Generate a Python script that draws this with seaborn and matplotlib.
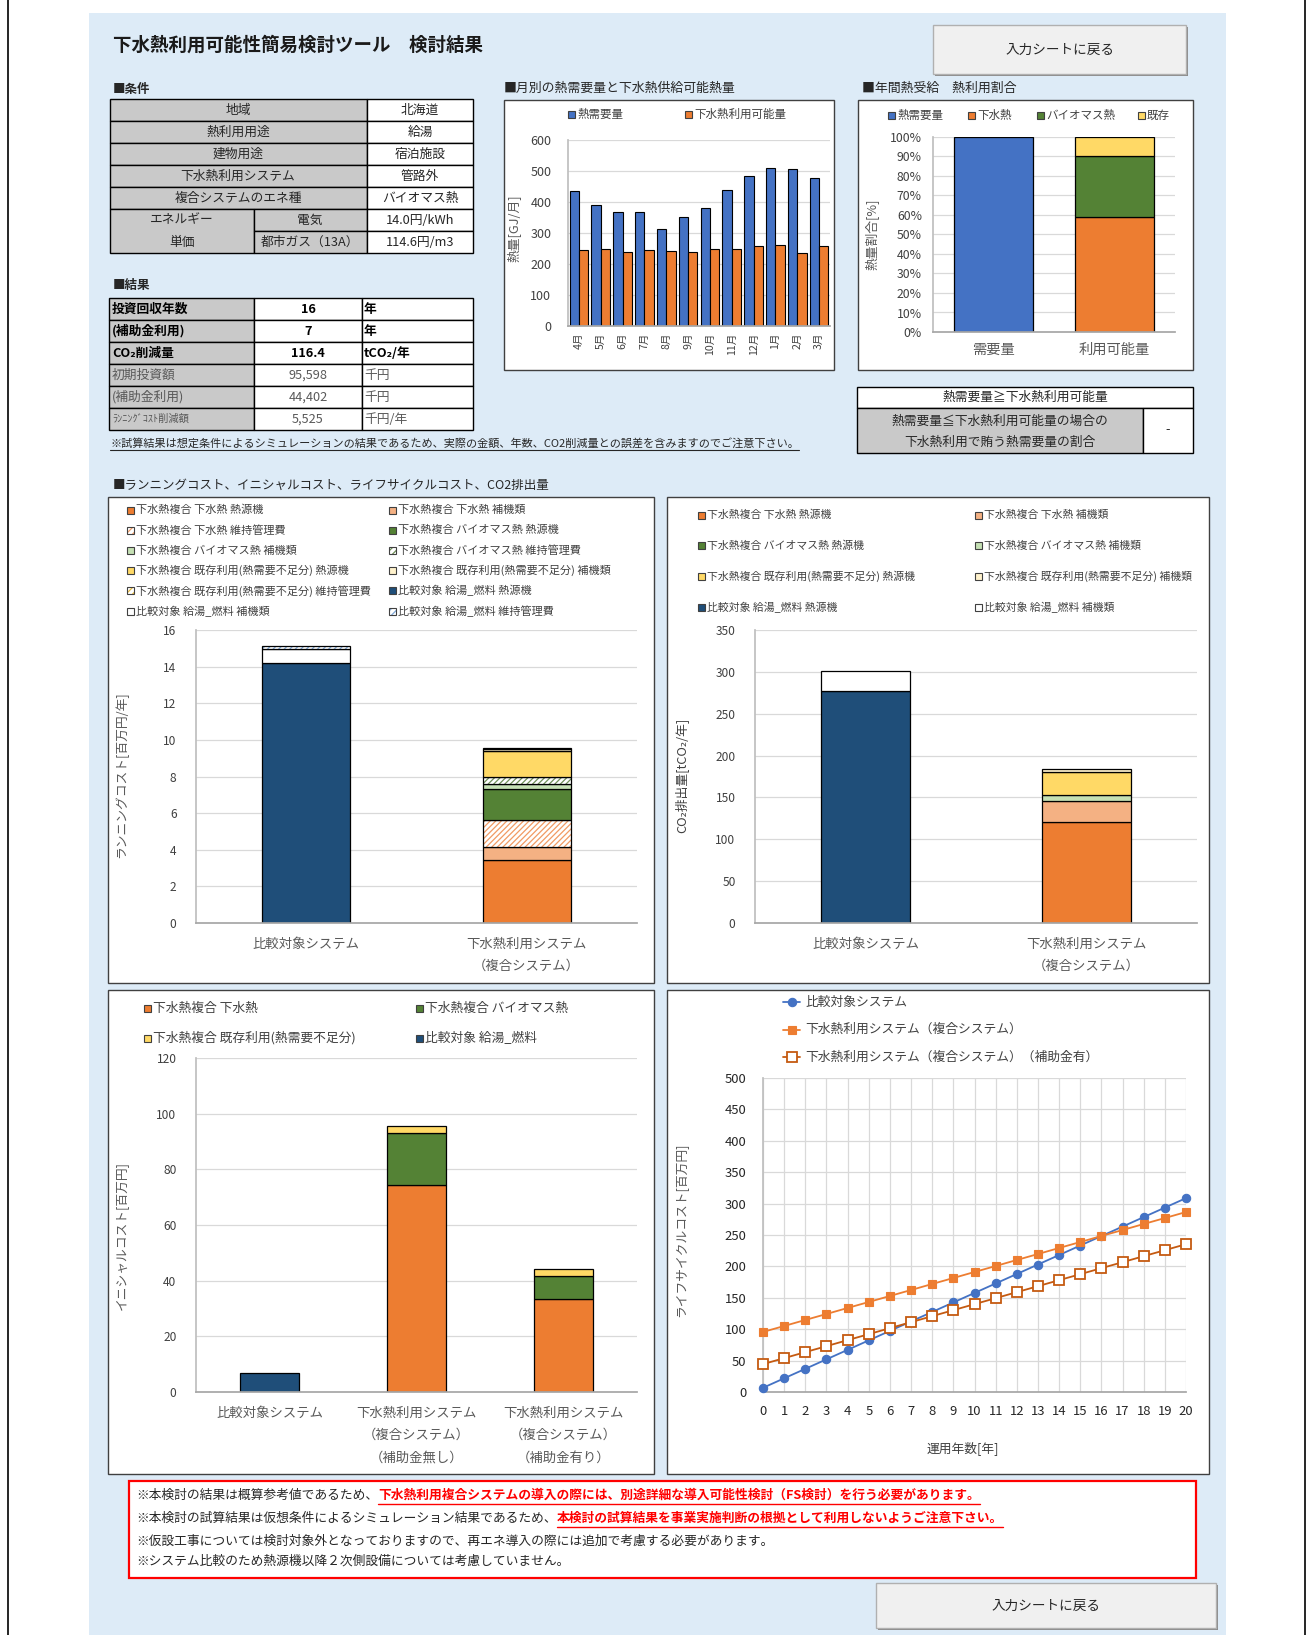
import numpy as np
import pandas as pd
import seaborn as sns
import matplotlib.pyplot as plt
from matplotlib.patches import Rectangle
from matplotlib.ticker import PercentFormatter

# ---------------- data ----------------
cond_labels = ['地域', '熱利用用途', '建物用途', '下水熱利用システム', '複合システムのエネ種']
cond_values = ['北海道', '給湯', '宿泊施設', '管路外', 'バイオマス熱']
price_labels = ['電気', '都市ガス（13A）']
price_values = ['14.0円/kWh', '114.6円/m3']

res_labels = ['投資回収年数', '(補助金利用)', 'CO₂削減量', '初期投資額', '(補助金利用)', 'ﾗﾝﾆﾝｸﾞｺｽﾄ削減額']
res_values = ['16', '7', '116.4', '95,598', '44,402', '5,525']
res_units = ['年', '年', 'tCO₂/年', '千円', '千円', '千円/年']

months = ['4月', '5月', '6月', '7月', '8月', '9月', '10月', '11月', '12月', '1月', '2月', '3月']
demand = [435, 390, 369, 369, 313, 353, 380, 438, 485, 509, 505, 477]
supply = [245, 249, 238, 244, 242, 238, 249, 247, 259, 262, 234, 257]

share_cats = ['需要量', '利用可能量']
share_labels = ['熱需要量', '下水熱', 'バイオマス熱', '既存']
share_demand = [100, 0]
share_sewage = [0, 59.1]
share_bio = [0, 31.2]
share_exist = [0, 9.7]

sys_cats = ['比較対象システム', '下水熱利用システム\n（複合システム）']
run_labels = ['下水熱複合 下水熱 熱源機', '下水熱複合 下水熱 補機類',
              '下水熱複合 下水熱 維持管理費', '下水熱複合 バイオマス熱 熱源機',
              '下水熱複合 バイオマス熱 補機類', '下水熱複合 バイオマス熱 維持管理費',
              '下水熱複合 既存利用(熱需要不足分) 熱源機', '下水熱複合 既存利用(熱需要不足分) 補機類',
              '下水熱複合 既存利用(熱需要不足分) 維持管理費', '比較対象 給湯_燃料 熱源機',
              '比較対象 給湯_燃料 補機類', '比較対象 給湯_燃料 維持管理費']
run_cost = [[0, 3.45], [0, 0.68], [0, 1.51], [0, 1.69], [0, 0.25], [0, 0.38],
            [0, 1.42], [0, 0.11], [0, 0.06], [14.22, 0], [0.73, 0], [0.15, 0]]

co2_labels = ['下水熱複合 下水熱 熱源機', '下水熱複合 下水熱 補機類',
              '下水熱複合 バイオマス熱 熱源機', '下水熱複合 バイオマス熱 補機類',
              '下水熱複合 既存利用(熱需要不足分) 熱源機', '下水熱複合 既存利用(熱需要不足分) 補機類',
              '比較対象 給湯_燃料 熱源機', '比較対象 給湯_燃料 補機類']
co2_emis = [[0, 120.5], [0, 24.7], [0, 0], [0, 7.9], [0, 26.7], [0, 4.7],
            [276.8, 0], [24.2, 0]]

init_cats = ['比較対象システム', '下水熱利用システム\n（複合システム）\n（補助金無し）',
             '下水熱利用システム\n（複合システム）\n（補助金有り）']
init_labels = ['下水熱複合 下水熱', '下水熱複合 バイオマス熱',
               '下水熱複合 既存利用(熱需要不足分)', '比較対象 給湯_燃料']
init_cost = [[0, 74.5, 33.4], [0, 18.7, 8.4], [0, 2.4, 2.4], [6.7, 0, 0]]

years = [0, 1, 2, 3, 4, 5, 6, 7, 8, 9, 10, 11, 12, 13, 14, 15, 16, 17, 18, 19, 20]
lcc_base = [6.7, 21.8, 36.9, 52.0, 67.1, 82.2, 97.3, 112.4, 127.5, 142.6, 157.7,
            172.8, 187.9, 203.0, 218.1, 233.2, 248.3, 263.4, 278.5, 293.6, 308.7]
lcc_sys = [95.6, 105.1, 114.7, 124.2, 133.8, 143.3, 152.9, 162.4, 172.0, 181.5, 191.1,
           200.6, 210.2, 219.7, 229.3, 238.8, 248.4, 257.9, 267.5, 277.0, 286.6]
lcc_sub = [44.4, 53.9, 63.5, 73.0, 82.6, 92.1, 101.7, 111.2, 120.8, 130.3, 139.9,
           149.4, 159.0, 168.5, 178.1, 187.6, 197.2, 206.7, 216.3, 225.8, 235.4]
lcc_labels = ['比較対象システム', '下水熱利用システム（複合システム）',
              '下水熱利用システム（複合システム）（補助金有）']

notes = [('※本検討の結果は概算参考値であるため、',
          '下水熱利用複合システムの導入の際には、別途詳細な導入可能性検討（FS検討）を行う必要があります。'),
         ('※本検討の試算結果は仮想条件によるシミュレーション結果であるため、',
          '本検討の試算結果を事業実施判断の根拠として利用しないようご注意下さい。'),
         ('※仮設工事については検討対象外となっておりますので、再エネ導入の際には追加で考慮する必要があります。', ''),
         ('※システム比較のため熱源機以降２次側設備については考慮していません。', '')]

# ---------------- styles ----------------
BLUE, ORANGE, GREEN, YELLOW, NAVY = '#4472c4', '#ed7d31', '#548235', '#ffd966', '#1f4e79'
GRAY = '#c9c9c9'
# (facecolor, hatch colour or None)
run_styles = [(ORANGE, None), ('#f4b183', None), ('white', '#f19a63'),
              (GREEN, None), ('#c5e0b4', None), ('white', '#6f8f58'),
              (YELLOW, None), ('#fff2cc', None), ('white', '#e6b83a'),
              (NAVY, None), ('white', None), ('white', '#7fa7d6')]
co2_styles = [(ORANGE, None), ('#f4b183', None), (GREEN, None), ('#c5e0b4', None),
              (YELLOW, None), ('#fff2cc', None), (NAVY, None), ('white', None)]
init_styles = [(ORANGE, None), (GREEN, None), (YELLOW, None), (NAVY, None)]

sns.set_theme(style='white')
plt.rcParams['font.family'] = ['Noto Sans CJK JP', 'DejaVu Sans']
plt.rcParams['hatch.linewidth'] = 0.9

W, H = 1309, 1635
fig = plt.figure(figsize=(W / 100, H / 100), dpi=100)
fig.patch.set_facecolor('white')
bg = fig.add_axes([0, 0, 1, 1])
bg.set_xlim(0, W)
bg.set_ylim(H, 0)
bg.axis('off')

AXLAB = 9.2   # axis title size
TICK = 8.6    # tick label size
CAT = 9.6     # category label size


def box(x0, y0, x1, y1, fc='white', ec='black', lw=1.0, z=1):
    bg.add_patch(Rectangle((x0, y0), x1 - x0, y1 - y0, facecolor=fc,
                           edgecolor=ec, linewidth=lw, zorder=z))


def txt(x, y, s, size=9, ha='left', va='center', **kw):
    return bg.text(x, y, s, fontsize=size, ha=ha, va=va, zorder=5, **kw)


def chart_axes(x0, y0, x1, y1, xgrid=False):
    ax = fig.add_axes([x0 / W, 1 - y1 / H, (x1 - x0) / W, (y1 - y0) / H])
    ax.set_zorder(2)
    ax.set_facecolor('white')
    for s in ['top', 'right']:
        ax.spines[s].set_visible(False)
    ax.spines['left'].set_color('#bfbfbf')
    ax.spines['bottom'].set_color('#a6a6a6')
    ax.grid(axis='both' if xgrid else 'y', color='#d9d9d9', linewidth=0.9)
    ax.set_axisbelow(True)
    ax.tick_params(length=0, labelsize=TICK, colors='#404040')
    return ax


def legend_key(x, y, style, label, size=8, s=7):
    fc, hc = style
    if hc:
        bg.add_patch(Rectangle((x, y - s / 2), s, s, facecolor='white', edgecolor=hc,
                               hatch='/////', linewidth=0, zorder=5))
        bg.add_patch(Rectangle((x, y - s / 2), s, s, fill=False, edgecolor='#404040',
                               linewidth=0.8, zorder=6))
    else:
        bg.add_patch(Rectangle((x, y - s / 2), s, s, facecolor=fc, edgecolor='#404040',
                               linewidth=0.8, zorder=5))
    txt(x + s + 2, y, label, size=size, color='#404040')


def stacked(ax, cats, values, styles, width):
    x = np.arange(len(cats))
    bottom = np.zeros(len(cats))
    for vals, (fc, hc) in zip(values, styles):
        vals = np.asarray(vals, dtype=float)
        keep = vals > 0
        if keep.any():
            if hc:
                ax.bar(x[keep], vals[keep], width, bottom=bottom[keep], color='white',
                       edgecolor=hc, hatch='//////', linewidth=0)
                ax.bar(x[keep], vals[keep], width, bottom=bottom[keep], fill=False,
                       edgecolor='black', linewidth=0.9)
            else:
                ax.bar(x[keep], vals[keep], width, bottom=bottom[keep], color=fc,
                       edgecolor='black', linewidth=0.9)
        bottom += vals
    ax.set_xticks(x)
    ax.set_xticklabels(cats, color='#595959', fontsize=CAT, linespacing=1.75)
    ax.set_xlim(-0.5, len(cats) - 0.5)


# ---------------- page background ----------------
box(89, 13, 1226, H + 5, fc='#ddebf7', ec='none', z=0)
bg.axvline(8, color='black', lw=1.2)
bg.axvline(1305, color='black', lw=1.2)

txt(113, 45, '下水熱利用可能性簡易検討ツール　検討結果', size=13.3, fontweight='bold', color='#1a1a1a')
for (bx0, by0, bx1, by1) in [(933, 25, 1186, 74), (876, 1583, 1216, 1628)]:
    box(bx0 + 1.5, by0 + 1.5, bx1 + 1.5, by1 + 1.5, fc='#8a8a8a', ec='none', z=1)
    box(bx0, by0, bx1, by1, fc='#f0f0f0', ec='#b0b0b0', z=2)
    txt((bx0 + bx1) / 2, (by0 + by1) / 2, '入力シートに戻る', size=9.8, ha='center', color='#262626')

# ---------------- conditions table ----------------
txt(113, 89, '■条件', size=9, fontweight='bold')
rh = 22
for i, (lab, val) in enumerate(zip(cond_labels, cond_values)):
    y = 99 + rh * i
    box(110, y, 367, y + rh, fc=GRAY)
    box(367, y, 473, y + rh)
    txt(238, y + rh / 2, lab, ha='center', size=9.2, color='#262626')
    txt(420, y + rh / 2, val, ha='center', size=9.2, color='#262626')
y5 = 99 + rh * 5
box(110, y5, 254, y5 + 2 * rh, fc=GRAY)
txt(182, y5 + rh / 2, 'エネルギー', ha='center', size=9.2, color='#262626')
txt(182, y5 + 1.5 * rh, '単価', ha='center', size=9.2, color='#262626')
for i, (lab, val) in enumerate(zip(price_labels, price_values)):
    y = y5 + rh * i
    box(254, y, 367, y + rh, fc=GRAY)
    box(367, y, 473, y + rh)
    txt(310, y + rh / 2, lab, ha='center', size=9.2, color='#262626')
    txt(420, y + rh / 2, val, ha='center', size=9.2, color='#262626')

# ---------------- results table ----------------
txt(113, 285, '■結果', size=9, fontweight='bold')
for i, (lab, val, unit) in enumerate(zip(res_labels, res_values, res_units)):
    y = 298 + rh * i
    box(109, y, 254, y + rh, fc=GRAY)
    box(254, y, 362, y + rh)
    box(362, y, 473, y + rh)
    bold = 'bold' if i < 3 else 'normal'
    col = 'black' if i < 3 else '#595959'
    txt(112, y + rh / 2, lab, size=(7.4 if i == 5 else 9.2), fontweight=bold, color=col)
    txt(308, y + rh / 2, val, ha='center', size=9.2, fontweight=bold, color=col)
    txt(364, y + rh / 2, unit, size=9.2, fontweight=bold, color=col)
t = txt(110, 443, '※試算結果は想定条件によるシミュレーションの結果であるため、実際の金額、年数、CO2削減量との誤差を含みますのでご注意下さい。',
        size=8, color='#262626')
renderer = fig.canvas.get_renderer()
wnote = t.get_window_extent(renderer).width
bg.plot([110, 110 + wnote], [450, 450], color='#262626', lw=0.8)

# ---------------- monthly chart ----------------
txt(504, 88, '■月別の熱需要量と下水熱供給可能熱量', size=9.3, color='#262626')
box(504, 100, 834, 370, ec='#404040')
legend_key(568, 114, (BLUE, None), '熱需要量', size=8.3)
legend_key(685, 114, (ORANGE, None), '下水熱利用可能量', size=8.3)
ax = chart_axes(568, 140, 830, 326)
df_month = pd.DataFrame({'月': months * 2, '熱量': demand + supply,
                         '系列': ['熱需要量'] * 12 + ['下水熱利用可能量'] * 12})
sns.barplot(data=df_month, x='月', y='熱量', hue='系列', order=months,
            hue_order=['熱需要量', '下水熱利用可能量'], palette=[BLUE, ORANGE],
            saturation=1, width=0.86, gap=0, edgecolor='black', linewidth=0.8,
            errorbar=None, legend=False, ax=ax)
ax.set_xlabel('')
ax.set_ylabel('')
ax.set_xlim(-0.5, 11.5)
ax.set_ylim(0, 600)
ax.set_yticks(range(0, 601, 100))
ax.tick_params(axis='x', labelrotation=90, labelsize=7.6, pad=5)
ax.tick_params(axis='y', labelsize=9, pad=12)
txt(515, 228, '熱量[GJ/月]', size=AXLAB, ha='center', rotation=90, color='#595959')

# ---------------- annual share chart ----------------
txt(862, 88, '■年間熱受給　熱利用割合', size=9.3, color='#262626')
box(858, 100, 1193, 370, ec='#404040')
for xk, lab, st in zip([888, 968, 1037, 1138], share_labels,
                       [(BLUE, None), (ORANGE, None), (GREEN, None), (YELLOW, None)]):
    legend_key(xk, 115, st, lab, size=8.3)
ax = chart_axes(933, 137, 1175, 332)
stacked(ax, share_cats, [share_demand, share_sewage, share_bio, share_exist],
        [(BLUE, None), (ORANGE, None), (GREEN, None), (YELLOW, None)], 0.66)
ax.set_ylim(0, 100)
ax.set_yticks(range(0, 101, 10))
ax.yaxis.set_major_formatter(PercentFormatter(decimals=0))
ax.tick_params(axis='x', labelsize=10.3, pad=8)
ax.tick_params(axis='y', labelsize=8.8, pad=8)
txt(872, 234, '熱量割合[%]', size=AXLAB, ha='center', rotation=90, color='#595959')

# ---------------- small judgement table ----------------
box(857, 387, 1193, 408)
txt(1025, 397.5, '熱需要量≧下水熱利用可能量', ha='center', size=9.2, color='#262626')
box(857, 408, 1143, 453, fc=GRAY)
box(1143, 408, 1193, 453)
txt(1000, 421, '熱需要量≦下水熱利用可能量の場合の', ha='center', size=9.2, color='#262626')
txt(1000, 442, '下水熱利用で賄う熱需要量の割合', ha='center', size=9.2, color='#262626')
txt(1168, 430, '-', ha='center', size=9.2, color='#262626')

# ---------------- running cost chart ----------------
txt(113, 485, '■ランニングコスト、イニシャルコスト、ライフサイクルコスト、CO2排出量', size=9, color='#262626')
box(108, 497, 654, 983, ec='#404040')
for i, (lab, st) in enumerate(zip(run_labels, run_styles)):
    legend_key([127, 389][i % 2], 510 + 20.2 * (i // 2), st, lab, size=8)
ax = chart_axes(196, 630, 637, 923)
stacked(ax, sys_cats, run_cost, run_styles, 0.4)
ax.set_ylim(0, 16)
ax.set_yticks(range(0, 17, 2))
ax.tick_params(axis='y', pad=14)
ax.tick_params(axis='x', pad=10)
txt(121, 775, 'ランニングコスト[百万円/年]', size=AXLAB, ha='center', rotation=90, color='#595959')

# ---------------- CO2 chart ----------------
box(667, 497, 1209, 983, ec='#404040')
for i, (lab, st) in enumerate(zip(co2_labels, co2_styles)):
    legend_key([698, 975][i % 2], 515 + 30.7 * (i // 2), st, lab, size=7.8)
ax = chart_axes(755, 630, 1197, 923)
stacked(ax, sys_cats, co2_emis, co2_styles, 0.4)
ax.set_ylim(0, 350)
ax.set_yticks(range(0, 351, 50))
ax.tick_params(axis='y', pad=14)
ax.tick_params(axis='x', pad=10)
txt(681, 775, 'CO₂排出量[tCO₂/年]', size=AXLAB, ha='center', rotation=90, color='#404040')

# ---------------- initial cost chart ----------------
box(108, 990, 654, 1474, ec='#404040')
for i, (lab, st) in enumerate(zip(init_labels, init_styles)):
    legend_key([144, 416][i % 2], 1008 + 30 * (i // 2), st, lab, size=9.2)
ax = chart_axes(196, 1058, 637, 1392)
stacked(ax, init_cats, init_cost, init_styles, 0.4)
ax.set_ylim(0, 120)
ax.set_yticks(range(0, 121, 20))
ax.tick_params(axis='y', pad=14)
ax.tick_params(axis='x', pad=10)
txt(121, 1235, 'イニシャルコスト[百万円]', size=AXLAB, ha='center', rotation=90, color='#595959')

# ---------------- life cycle cost chart ----------------
box(667, 990, 1209, 1474, ec='#404040')
ax = chart_axes(763, 1078, 1186, 1392, xgrid=True)
line_styles = [dict(color=BLUE, marker='o', markersize=6, markerfacecolor=BLUE,
                    markeredgecolor=BLUE, markeredgewidth=0.8),
               dict(color=ORANGE, marker='s', markersize=6, markerfacecolor=ORANGE,
                    markeredgecolor=ORANGE, markeredgewidth=0.8),
               dict(color='#c55a11', marker='s', markersize=6.5, markerfacecolor='white',
                    markeredgecolor='#c55a11', markeredgewidth=1.3)]
for vals, st in zip([lcc_base, lcc_sys, lcc_sub], line_styles):
    sns.lineplot(x=years, y=vals, ax=ax, linewidth=1.3, clip_on=False, zorder=3, **st)
ax.set_xlim(0, 20)
ax.set_ylim(0, 500)
ax.set_xticks(years)
ax.set_yticks(range(0, 501, 50))
ax.tick_params(labelsize=9.4, colors='#262626')
ax.tick_params(axis='x', pad=9)
ax.tick_params(axis='y', pad=12)
for i, (lab, st) in enumerate(zip(lcc_labels, line_styles)):
    yk = 1002 + 27.5 * i
    bg.plot([783, 800], [yk, yk], color=st['color'], lw=1.3, zorder=5)
    mk = {k: v for k, v in st.items() if k != 'color'}
    bg.plot([791.5], [yk], zorder=6, linestyle='none', **mk)
    txt(805, yk, lab, size=9.2, color='#404040')
txt(681, 1230, 'ライフサイクルコスト[百万円]', size=AXLAB, ha='center', rotation=90, color='#595959')
txt(963, 1448, '運用年数[年]', size=9.2, ha='center', color='#404040')

# ---------------- notes ----------------
box(129, 1481, 1196, 1578, ec='#ff0000', lw=1.6)
for (plain, red), y in zip(notes, [1495, 1518, 1541, 1561]):
    t = txt(136, y, plain, size=9.2, color='#262626')
    w = t.get_window_extent(renderer).width
    if red:
        t2 = txt(136 + w, y, red, size=9.2, color='#ff0000', fontweight='bold')
        w2 = t2.get_window_extent(renderer).width
        bg.plot([136 + w, 136 + w + w2], [y + 8.5, y + 8.5], color='#ff0000', lw=1, zorder=5)

fig.savefig('out.png', dpi=100)
